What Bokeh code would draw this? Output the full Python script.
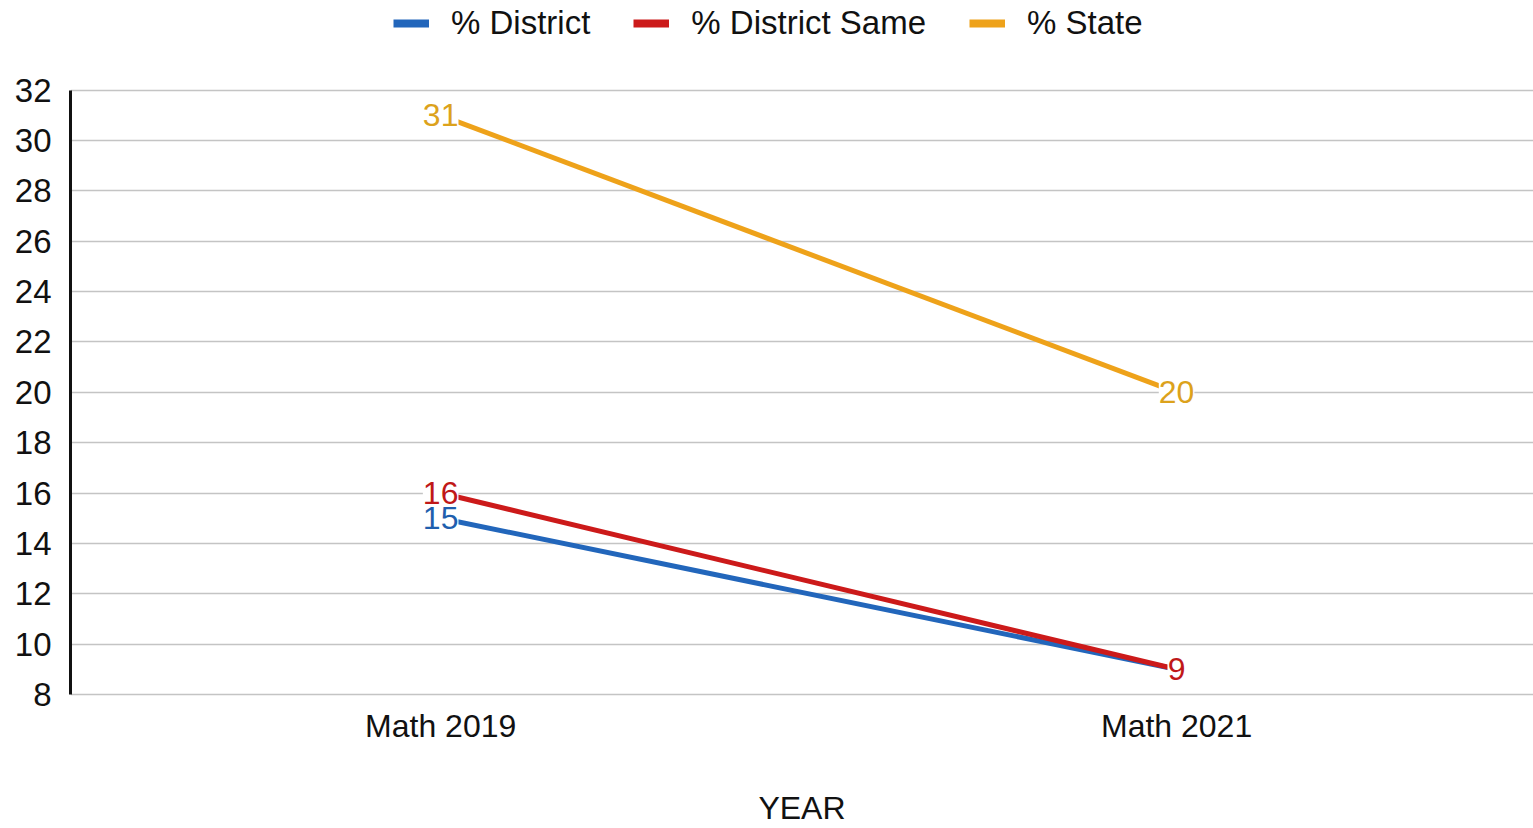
from bokeh.plotting import figure
from bokeh.models import (ColumnDataSource, Range1d, FixedTicker, Legend, LegendItem, LabelSet)
from bokeh.core.properties import value
from bokeh.embed import file_html
from bokeh.resources import INLINE

categories = ["Math 2019", "Math 2021"]
district = [15, 9]
district_same = [16, 9]
state = [31, 20]
series_names = ["% District", "% District Same", "% State"]
y_ticks = list(range(8, 33, 2))

colors = ["#2266bb", "#cc1a1a", "#eea21a"]
label_colors = ["#1f5fae", "#c01818", "#dca21c"]
FONT = "Liberation Sans"
FS = "32px"
FS_LEG = "33px"

p = figure(width=1533, height=828, output_backend="svg", toolbar_location=None,
           x_range=Range1d(-0.503, 1.485), y_range=Range1d(7.88, 35.56),
           min_border_left=70, min_border_right=0, min_border_top=0,
           min_border_bottom=126)
p.outline_line_color = None
p.background_fill_color = "white"
p.border_fill_color = "white"

xs = list(range(len(categories)))
legend_items = []
for vals, col, lcol, name in zip([district, district_same, state], colors, label_colors, series_names):
    src = ColumnDataSource(dict(x=xs, y=vals, t=[str(v) for v in vals]))
    p.line("x", "y", source=src, line_color=col, line_width=5)
    # legend proxy (draws nothing, only provides a thicker legend swatch)
    proxy = p.line(x=[float("nan")], y=[float("nan")], line_color=col, line_width=8)
    legend_items.append(LegendItem(label=name, renderers=[proxy]))
    lbl = LabelSet(x="x", y="y", text="t", source=src, text_align="center",
                   text_baseline="middle", text_color=lcol, text_font=value(FONT),
                   text_font_size=FS, background_fill_color="white",
                   background_fill_alpha=1.0)
    p.add_layout(lbl)

# axes
p.xaxis.ticker = FixedTicker(ticks=xs)
p.xaxis.major_label_overrides = {i: c for i, c in zip(xs, categories)}
p.xaxis.axis_line_color = None
p.xaxis.major_tick_line_color = None
p.xaxis.minor_tick_line_color = None
p.xaxis.major_label_text_font = FONT
p.xaxis.major_label_text_font_size = FS
p.xaxis.major_label_text_color = "#111111"
p.xaxis.major_label_standoff = 4
p.xaxis.axis_label = "YEAR"
p.xaxis.axis_label_text_font = FONT
p.xaxis.axis_label_text_font_size = FS
p.xaxis.axis_label_text_font_style = "normal"
p.xaxis.axis_label_text_color = "#111111"
p.xaxis.axis_label_standoff = 43

p.yaxis.ticker = FixedTicker(ticks=y_ticks)
p.yaxis.bounds = (8, 32)
p.yaxis.axis_line_color = "#111111"
p.yaxis.axis_line_width = 3
p.yaxis.major_tick_line_color = None
p.yaxis.minor_tick_line_color = None
p.yaxis.major_label_text_font = FONT
p.yaxis.major_label_text_font_size = "33px"
p.yaxis.major_label_text_color = "#111111"
p.yaxis.major_label_standoff = 13

p.xgrid.grid_line_color = None
p.ygrid.ticker = FixedTicker(ticks=y_ticks)
p.ygrid.grid_line_color = "#c4c4c4"
p.ygrid.grid_line_width = 1.5

legend = Legend(items=legend_items,
                orientation="horizontal", location=(323, 655),
                label_text_font=FONT, label_text_font_size=FS_LEG,
                label_text_color="#111111", glyph_width=36, glyph_height=30,
                spacing=43, label_standoff=22, border_line_color=None,
                background_fill_alpha=0, margin=0, padding=6)
p.add_layout(legend, "center")

open("out.html", "w").write(file_html(p, INLINE))
